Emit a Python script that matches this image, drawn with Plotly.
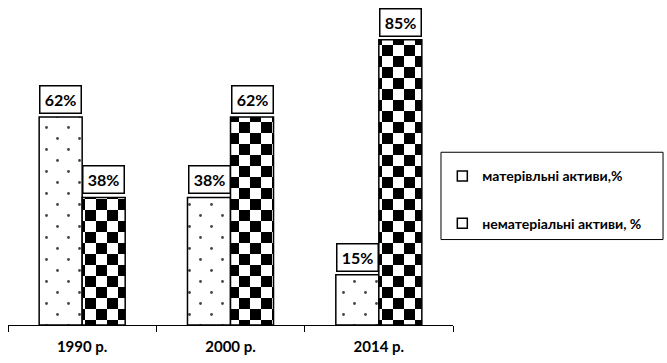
import plotly.graph_objects as go

# Data
years = ["1990 р.", "2000 р.", "2014 р."]
tangible = [62, 38, 15]       # матеріальні активи, %
intangible = [38, 62, 85]     # нематеріальні активи, %
legend_names = ["матерівльні активи,%", "нематеріальні активи, %"]

FONT = "Lato"
series = [tangible, intangible]
shapes_pat = [".", "+"]

fig = go.Figure()
for vals, pat in zip(series, shapes_pat):
    fig.add_trace(go.Bar(
        x=years, y=vals, showlegend=False,
        marker=dict(color="white",
                    line=dict(color="black", width=1.5),
                    pattern=dict(shape=pat, fgcolor="black", bgcolor="white",
                                 size=11, solidity=0.03)),
    ))

# Legend entries (plain white squares)
for i, name in enumerate(legend_names):
    fig.add_trace(go.Scatter(
        x=[None], y=[None], mode="markers", name=f"<b>{name}</b>",
        legendgroup=f"g{i}",
        marker=dict(symbol="square", size=10, color="white",
                    line=dict(color="black", width=1.5)),
    ))

# Value labels in boxes above each bar
BAR_HALF = 21.5
annotations = []
for k, vals in enumerate(series):
    shift = -BAR_HALF if k == 0 else BAR_HALF
    for cat, v in zip(years, vals):
        annotations.append(dict(
            x=cat, y=v, xref="x", yref="y", text=f"<b>{v}%</b>",
            showarrow=False, xshift=shift, yshift=3, yanchor="bottom",
            width=36, height=22, borderpad=2, borderwidth=1.5,
            bordercolor="black", bgcolor="white",
            font=dict(family=FONT, size=16, color="black"),
        ))

fig.update_layout(
    width=667, height=363,
    margin=dict(l=8, r=214, t=23, b=36),
    paper_bgcolor="white", plot_bgcolor="white",
    barmode="group", bargap=0.42, bargroupgap=0,
    annotations=annotations,
    showlegend=True,
    legend=dict(x=0.976, xanchor="left", y=0.545, yanchor="top",
                bgcolor="rgba(0,0,0,0)", borderwidth=0,
                traceorder="grouped", tracegroupgap=26,
                font=dict(family=FONT, size=14, color="black")),
    shapes=[dict(type="rect", xref="paper", yref="paper",
                 x0=0.973, x1=1.472, y0=0.283, y1=0.572,
                 line=dict(color="black", width=1), fillcolor="rgba(0,0,0,0)",
                 layer="below")],
    xaxis=dict(showline=True, linecolor="black", linewidth=1,
               ticks="outside", tickson="boundaries", ticklen=6,
               tickcolor="black", ticklabelstandoff=8,
               tickfont=dict(family=FONT, size=15, color="black"),
               tickprefix="<b>", ticksuffix="</b>",
               showgrid=False),
    yaxis=dict(visible=False, range=[0, 90]),
)

# Replace the stock bar fills with a staggered dot tile and a checkerboard tile
post = """
var gd = document.getElementById('{plot_id}');
var NS = 'http://www.w3.org/2000/svg';
function mk(tag, attrs) {
  var el = document.createElementNS(NS, tag);
  for (var k in attrs) el.setAttribute(k, attrs[k]);
  return el;
}
var tiles = [
  [['rect', {x:0, y:0, width:22, height:22, fill:'white'}],
   ['circle', {cx:5.5, cy:5.5, r:1.4, fill:'#444'}],
   ['circle', {cx:16.5, cy:16.5, r:1.4, fill:'#444'}]],
  [['rect', {x:0, y:0, width:22, height:22, fill:'white'}],
   ['rect', {x:0, y:0, width:11, height:11, fill:'black'}],
   ['rect', {x:11, y:11, width:11, height:11, fill:'black'}]]
];
function repaint() {
  var traces = gd.querySelectorAll('.barlayer .trace.bars');
  traces.forEach(function(tr, i) {
    if (i > 1) return;
    var p = tr.querySelector('.point path');
    if (!p) return;
    var m = ((p.getAttribute('style') || '') + (p.style.fill || '')).match(/#([^"')\\s;]+)/);
    if (!m) return;
    var pat = document.getElementById(m[1]);
    if (!pat) return;
    while (pat.firstChild) pat.removeChild(pat.firstChild);
    pat.setAttribute('width', 22);
    pat.setAttribute('height', 22);
    pat.setAttribute('patternUnits', 'userSpaceOnUse');
    pat.removeAttribute('patternTransform');
    tiles[i].forEach(function(c) { pat.appendChild(mk(c[0], c[1])); });
  });
}
repaint();
gd.on('plotly_afterplot', repaint);
"""

fig.write_html("out.html", post_script=post)
